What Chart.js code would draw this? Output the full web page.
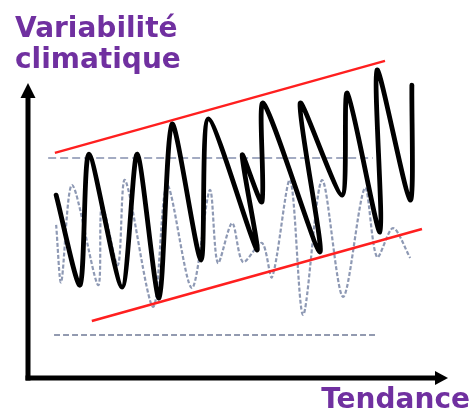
<!DOCTYPE html>
<html lang="fr">
<head>
<meta charset="utf-8">
<title>Variabilité climatique et tendance</title>
<script src="https://cdn.jsdelivr.net/npm/chart.js@4.4.1/dist/chart.umd.min.js"></script>
<style>
  html, body { margin: 0; padding: 0; background: #ffffff; }
  #wrap { width: 472px; height: 413px; }
</style>
</head>
<body>
<div id="wrap"><canvas id="c" width="472" height="413"></canvas></div>
<script>
// Observed climate signal (thick black curve): time, value
const signalX = [6.7, 12.4, 14.5, 22.4, 26.0, 31.2, 34.3, 41.2, 42.9, 54.5, 51.0, 55.7, 56.0, 69.5, 64.8, 74.8, 76.0, 83.8, 83.1, 91.0, 91.4];
const signalY = [62.0, 31.5, 75.9, 30.8, 75.9, 27.1, 86.1, 40.0, 87.8, 43.4, 75.6, 59.7, 93.2, 42.7, 93.2, 62.0, 96.6, 49.5, 104.4, 60.3, 99.3];

// Reference variability without trend (grey dotted curve)
const baseX = [6.7, 7.9, 10.5, 16.7, 17.6, 21.4, 23.1, 29.8, 33.1, 39.0, 43.3, 45.2, 48.6, 51.2, 55.7, 58.1, 62.4, 65.5, 70.0, 75.0, 80.2, 83.1, 86.9, 91.0];
const baseY = [51.9, 32.5, 65.4, 31.5, 58.6, 38.3, 67.1, 24.1, 65.4, 30.5, 63.7, 39.0, 52.5, 39.3, 45.8, 34.2, 67.1, 21.4, 67.1, 27.5, 64.4, 41.0, 50.8, 40.7];

// Trend envelope (red lines)
const upperX = [6.4, 85.0];
const upperY = [76.3, 107.5];
const lowerX = [15.2, 93.8];
const lowerY = [19.3, 50.5];

// Constant reference bounds (dashed lines)
const boundUpperX = [4.8, 82.1];
const boundUpperY = [74.6, 74.6];
const boundLowerX = [6.2, 83.3];
const boundLowerY = [14.6, 14.6];

// Axis extent and labels
const axisMax = { x: 100, y: 100 };
const yLabel = ['Variabilité', 'climatique'];
const xLabel = 'Tendance';

const pts = (xs, ys) => xs.map((x, i) => ({ x: x, y: ys[i] }));

const PURPLE = '#7030a0';

const decor = {
  id: 'decor',
  beforeDatasetsDraw(chart) {
    const { ctx, scales } = chart;
    const x0 = scales.x.getPixelForValue(0);
    const y0 = scales.y.getPixelForValue(0);
    const xTip = scales.x.getPixelForValue(axisMax.x);
    const yTip = scales.y.getPixelForValue(axisMax.y);
    ctx.save();
    ctx.strokeStyle = '#000';
    ctx.fillStyle = '#000';
    ctx.lineWidth = 5;
    ctx.lineCap = 'butt';
    // vertical axis
    ctx.beginPath();
    ctx.moveTo(x0, y0 + 2.5);
    ctx.lineTo(x0, yTip + 12);
    ctx.stroke();
    ctx.beginPath();
    ctx.moveTo(x0, yTip);
    ctx.lineTo(x0 - 7.5, yTip + 15);
    ctx.lineTo(x0 + 7.5, yTip + 15);
    ctx.closePath();
    ctx.fill();
    // horizontal axis
    ctx.beginPath();
    ctx.moveTo(x0 - 2.5, y0);
    ctx.lineTo(xTip - 10, y0);
    ctx.stroke();
    ctx.beginPath();
    ctx.moveTo(xTip, y0);
    ctx.lineTo(xTip - 13, y0 - 7);
    ctx.lineTo(xTip - 13, y0 + 7);
    ctx.closePath();
    ctx.fill();
    ctx.restore();
  },
  afterDraw(chart) {
    const { ctx } = chart;
    ctx.save();
    ctx.fillStyle = PURPLE;
    ctx.font = 'bold 28px "DejaVu Sans"';
    ctx.textBaseline = 'alphabetic';
    ctx.textAlign = 'left';
    ctx.fillText(yLabel[0], 15, 37);
    ctx.fillText(yLabel[1], 15, 68);
    ctx.textAlign = 'right';
    ctx.fillText(xLabel, 470, 408);
    ctx.restore();
  }
};

new Chart(document.getElementById('c'), {
  type: 'scatter',
  data: {
    datasets: [
      {
        label: 'signal',
        data: pts(signalX, signalY),
        showLine: true,
        borderColor: '#000000',
        borderWidth: 4.8,
        tension: 0.25,
        pointRadius: 0,
        borderCapStyle: 'round',
        borderJoinStyle: 'round',
        order: 0
      },
      {
        label: 'enveloppe haute',
        data: pts(upperX, upperY),
        showLine: true,
        borderColor: '#ff1f1f',
        borderWidth: 2.5,
        pointRadius: 0,
        order: 1
      },
      {
        label: 'enveloppe basse',
        data: pts(lowerX, lowerY),
        showLine: true,
        borderColor: '#ff1f1f',
        borderWidth: 2.5,
        pointRadius: 0,
        order: 1
      },
      {
        label: 'borne haute',
        data: pts(boundUpperX, boundUpperY),
        showLine: true,
        borderColor: '#a3abc2',
        borderWidth: 2,
        borderDash: [8, 4],
        pointRadius: 0,
        order: 2
      },
      {
        label: 'borne basse',
        data: pts(boundLowerX, boundLowerY),
        showLine: true,
        borderColor: '#6f7a96',
        borderWidth: 1.5,
        borderDash: [6, 3],
        pointRadius: 0,
        order: 2
      },
      {
        label: 'référence',
        data: pts(baseX, baseY),
        showLine: true,
        borderColor: '#8e99b4',
        borderWidth: 2.2,
        borderDash: [4, 2],
        tension: 0.3,
        pointRadius: 0,
        order: 3
      }
    ]
  },
  options: {
    responsive: false,
    animation: false,
    events: [],
    layout: { padding: { left: 28, right: 24, top: 24, bottom: 35 } },
    scales: {
      x: { type: 'linear', min: 0, max: 100, display: false },
      y: { type: 'linear', min: 0, max: 120, display: false }
    },
    plugins: {
      legend: { display: false },
      tooltip: { enabled: false },
      title: { display: false }
    },
    elements: { line: { capBezierPoints: false } }
  },
  plugins: [decor]
});
</script>
</body>
</html>
